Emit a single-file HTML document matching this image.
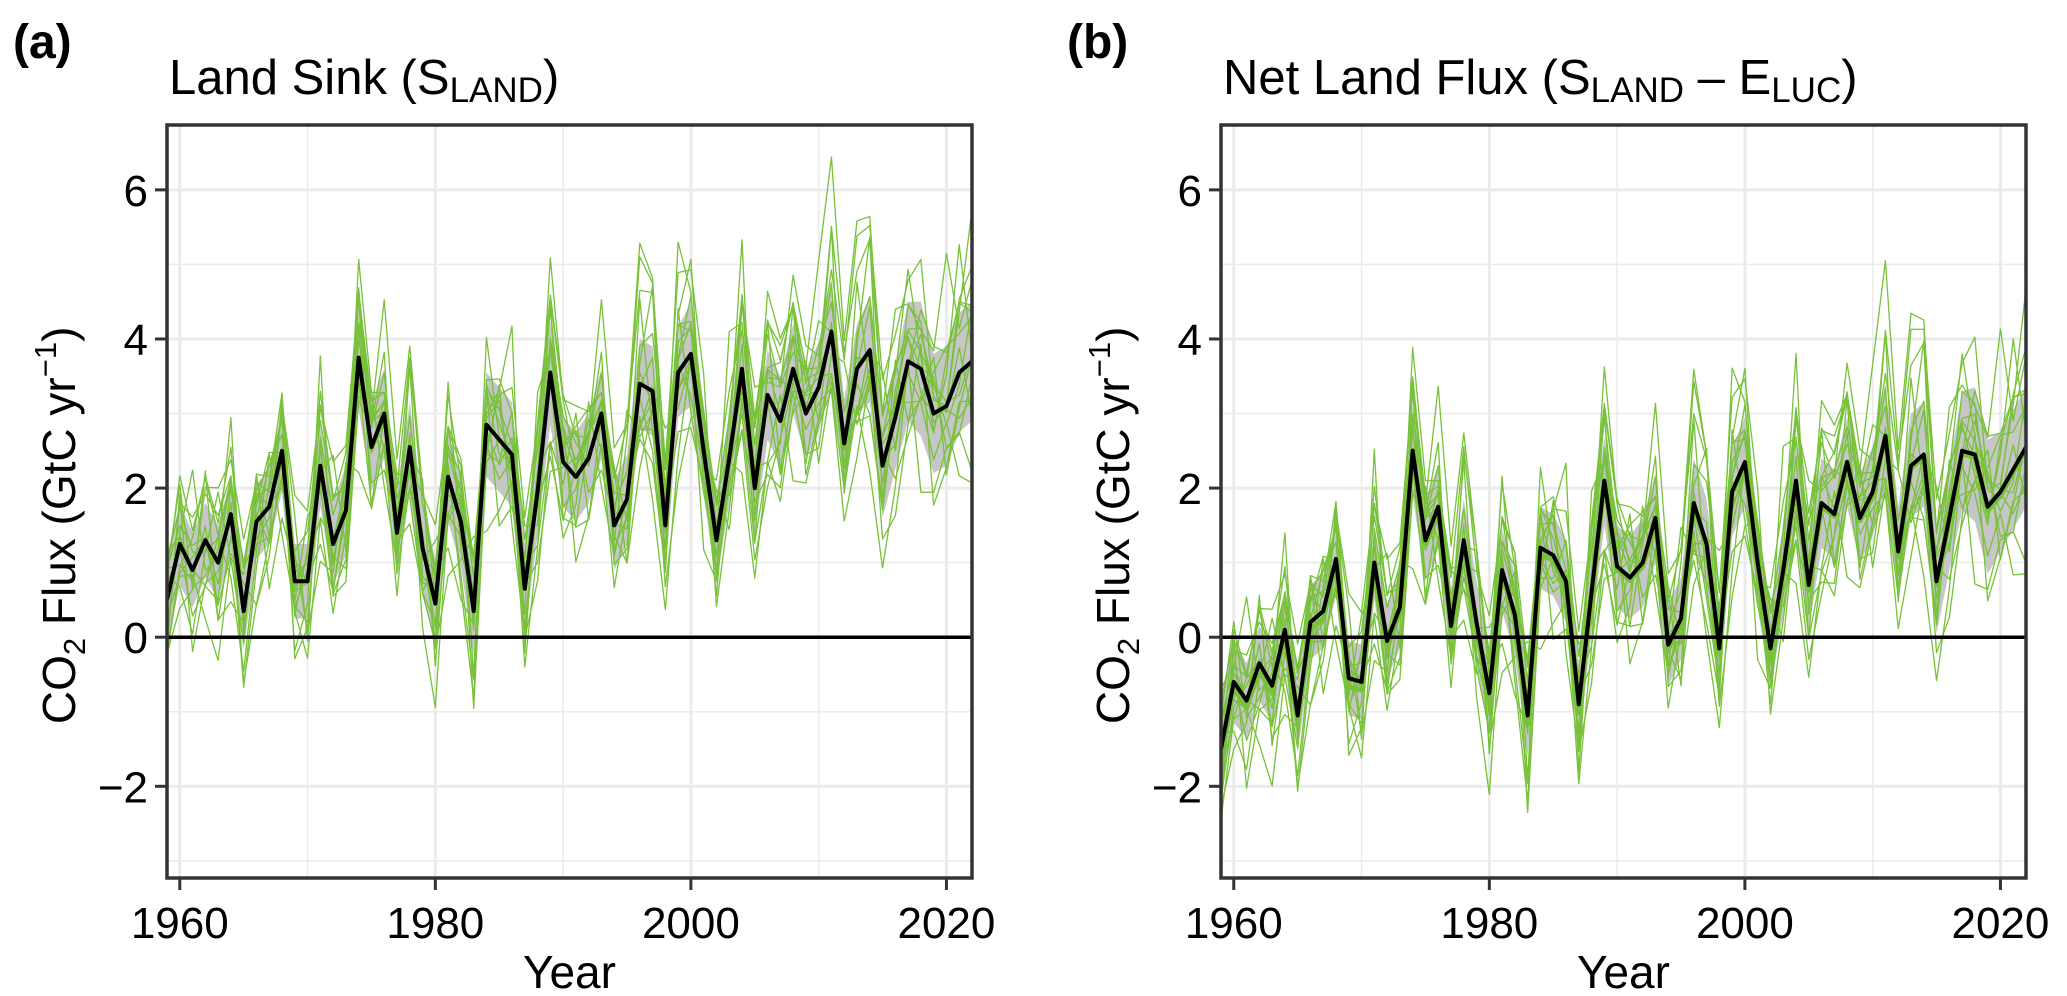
<!DOCTYPE html>
<html><head><meta charset="utf-8"><style>
html,body{margin:0;padding:0;background:#fff;width:2067px;height:996px;overflow:hidden}
svg{display:block}
text{font-family:"Liberation Sans",Arial,sans-serif;fill:#000}
</style></head><body>
<svg id="fig" width="2067" height="996" viewBox="0 0 2067 996" xmlns="http://www.w3.org/2000/svg"></svg>
<script>
const years = [];
for (let y = 1959; y <= 2022; y++) years.push(y);
const slandObs = [0.5,1.25,0.9,1.3,1.0,1.65,0.35,1.55,1.75,2.5,0.75,0.75,2.3,1.25,1.7,3.75,2.55,3.0,1.4,2.55,1.2,0.45,2.15,1.55,0.35,2.85,2.65,2.45,0.65,1.95,3.55,2.35,2.15,2.4,3.0,1.5,1.85,3.4,3.3,1.5,3.55,3.8,2.5,1.3,2.4,3.6,2.0,3.25,2.9,3.6,3.0,3.35,4.1,2.6,3.6,3.85,2.3,2.95,3.7,3.6,3.0,3.1,3.55,3.7];
const netObs = [-1.5,-0.6,-0.85,-0.35,-0.65,0.1,-1.05,0.2,0.35,1.05,-0.55,-0.6,1.0,-0.05,0.4,2.5,1.3,1.75,0.15,1.3,0.2,-0.75,0.9,0.3,-1.05,1.2,1.1,0.75,-0.9,0.6,2.1,0.95,0.8,1.0,1.6,-0.1,0.25,1.8,1.25,-0.15,1.95,2.35,1.0,-0.15,0.9,2.1,0.7,1.8,1.65,2.35,1.6,1.95,2.7,1.15,2.3,2.45,0.75,1.6,2.5,2.45,1.75,1.95,2.25,2.55];
const bandHalfA = [0.6,0.55,0.5,0.5,0.5,0.5,0.5,0.5,0.5,0.55,0.5,0.5,0.55,0.55,0.6,0.7,0.6,0.6,0.6,0.6,0.6,0.6,0.6,0.6,0.6,0.7,0.7,0.7,0.6,0.6,0.7,0.6,0.6,0.6,0.6,0.6,0.6,0.6,0.6,0.6,0.6,0.7,0.6,0.6,0.6,0.6,0.6,0.6,0.6,0.6,0.6,0.6,0.7,0.6,0.6,0.7,0.7,0.7,0.8,0.9,0.8,0.8,0.8,0.8];
const bandHalfB = [0.6,0.55,0.5,0.5,0.5,0.5,0.5,0.5,0.5,0.5,0.5,0.5,0.5,0.5,0.55,0.6,0.55,0.55,0.5,0.55,0.55,0.55,0.55,0.55,0.55,0.55,0.55,0.55,0.55,0.55,0.6,0.55,0.55,0.6,0.6,0.55,0.55,0.6,0.6,0.55,0.6,0.6,0.6,0.55,0.6,0.6,0.6,0.6,0.6,0.6,0.6,0.6,0.7,0.6,0.7,0.7,0.7,0.7,0.8,0.9,0.9,0.8,0.8,0.8];
const memberBias = [0.3,-0.4,0.6,-0.2,0.1,-0.6,0.45,-0.1,0.2,-0.3,0.8,-0.5,0.0,0.35,-0.25,0.15];
const memberScale = [1.2,0.8,1.4,0.9,1.1,0.7,1.3,1.0,0.85,1.15,1.5,0.75,1.25,0.95,1.05,0.9];
const memberNoise = [0.4,-0.3,0.7,-0.6,0.2,0.5,-0.8,0.1,0.6,-0.2,-0.5,0.3,0.9,-0.4,0.0,-0.7,0.45];
const xTicks = [1960,1980,2000,2020];
const yTicks = [-2,0,2,4,6];

const svg = document.getElementById('fig');
const NS = 'http://www.w3.org/2000/svg';
function mk(tag, attrs, parent){const e=document.createElementNS(NS,tag);for(const k in attrs)e.setAttribute(k,attrs[k]);(parent||svg).appendChild(e);return e;}

function panel(left, obs, bandHalf, label, titleParts, id, showMean){
  const right = left + 805, top = 125, bottom = 878;
  const yMin = -3.23, yMax = 6.87;
  const sx = v => left + (v - 1959) / (2022 - 1959) * (right - left);
  const sy = v => bottom - (v - yMin) / (yMax - yMin) * (bottom - top);
  const g = mk('g', {});
  
  
  const clipId = 'clip' + id;
  const cp = mk('clipPath', {id: clipId}, g);
  mk('rect', {x:left, y:top, width:right-left, height:bottom-top}, cp);
  for (let yr = 1960; yr <= 2020; yr += 10) {
    const l = mk('line', {x1:sx(yr), x2:sx(yr), y1:top, y2:bottom, stroke:'#ebebeb', 'stroke-width': yr%20===0?3:1.5}, g);
    
    
  }
  for (let v = -3; v <= 6; v += 1) {
    const l = mk('line', {x1:left, x2:right, y1:sy(v), y2:sy(v), stroke:'#ebebeb', 'stroke-width': v%2===0?3:1.5}, g);
    
    
  }
  const plot = mk('g', {'clip-path': 'url(#' + clipId + ')'}, g);
  let up = years.map((y,i)=>sx(y)+','+sy(obs[i]+bandHalf[i]));
  let lo = years.map((y,i)=>sx(y)+','+sy(obs[i]-bandHalf[i])).reverse();
  const band = mk('polygon', {points: up.concat(lo).join(' '), fill:'#c6c6c6'}, plot);
  
  
  const mu = obs.reduce((a,c)=>a+c,0)/obs.length;
  const mean = obs.map(v=>0);
  memberBias.forEach((b, m) => {
    const vals = obs.map((v,i) => mu + (v - mu) * memberScale[m] + b * 0.9 + memberNoise[(i*3 + m*5) % memberNoise.length] * 1.05);
    vals.forEach((v,i)=>mean[i]+=v/memberBias.length);
    const pl = mk('polyline', {points: years.map((y,i)=>sx(y)+','+sy(vals[i])).join(' '), fill:'none', stroke:'#78c13a', 'stroke-width':1.3, 'stroke-linejoin':'round'}, plot);
    
    
  });
  if (showMean) {
    const pm = mk('polyline', {points: years.map((y,i)=>sx(y)+','+sy(mean[i]*0.5+obs[i]*0.5-0.1)).join(' '), fill:'none', stroke:'#78c13a', 'stroke-width':5, 'stroke-linejoin':'round'}, plot);
    
    
  }
  const z = mk('line', {x1:left, x2:right, y1:sy(0), y2:sy(0), stroke:'#000', 'stroke-width':3.5}, plot);
  
  
  const ob = mk('polyline', {points: years.map((y,i)=>sx(y)+','+sy(obs[i])).join(' '), fill:'none', stroke:'#000', 'stroke-width':4, 'stroke-linejoin':'round'}, plot);
  
  
  const fr = mk('rect', {x:left, y:top, width:right-left, height:bottom-top, fill:'none', stroke:'#333', 'stroke-width':3.5}, g);
  
  
  xTicks.forEach(t => {
    mk('line', {x1:sx(t), x2:sx(t), y1:bottom, y2:bottom+12, stroke:'#333', 'stroke-width':3}, g);
    const tx = mk('text', {x:sx(t), y:bottom+60, 'font-size':44, 'text-anchor':'middle'}, g);
    tx.textContent = t;
    
    
  });
  yTicks.forEach(t => {
    mk('line', {x1:left-12, x2:left, y1:sy(t), y2:sy(t), stroke:'#333', 'stroke-width':3}, g);
    const ty = mk('text', {x:left-19, y:sy(t)+16, 'font-size':44, 'text-anchor':'end'}, g);
    ty.textContent = t < 0 ? '\u2212' + Math.abs(t) : String(t);
    
    
  });
  const xt = mk('text', {x:(left+right)/2, y:988, 'font-size':46, 'text-anchor':'middle'}, g);
  xt.textContent = 'Year';
  
  
  const yt = mk('text', {x:0, y:0, 'font-size':46, 'text-anchor':'middle', transform:'translate(' + (left-92) + ',' + sy(1.5) + ') rotate(-90)'}, g);
  yt.innerHTML = 'CO<tspan font-size="31" dy="10">2</tspan><tspan dy="-10"> Flux (GtC yr</tspan><tspan font-size="31" dy="-19">\u22121</tspan><tspan dy="19">)</tspan>';
  
  
  const lb = mk('text', {x:left-154, y:58, 'font-size':48, 'font-weight':'bold'}, g);
  lb.textContent = label;
  
  
  const tt = mk('text', {x:left+2, y:94, 'font-size':49}, g);
  tt.innerHTML = titleParts;
  
  
}
panel(167, slandObs, bandHalfA, '(a)', 'Land Sink (S<tspan font-size="35" dy="8">LAND</tspan><tspan dy="-8">)</tspan>', 'a', false);
panel(1221, netObs, bandHalfB, '(b)', 'Net Land Flux (S<tspan font-size="35" dy="8">LAND</tspan><tspan dy="-8"> \u2013 E</tspan><tspan font-size="35" dy="8">LUC</tspan><tspan dy="-8">)</tspan>', 'b', true);
</script>
</body></html>
